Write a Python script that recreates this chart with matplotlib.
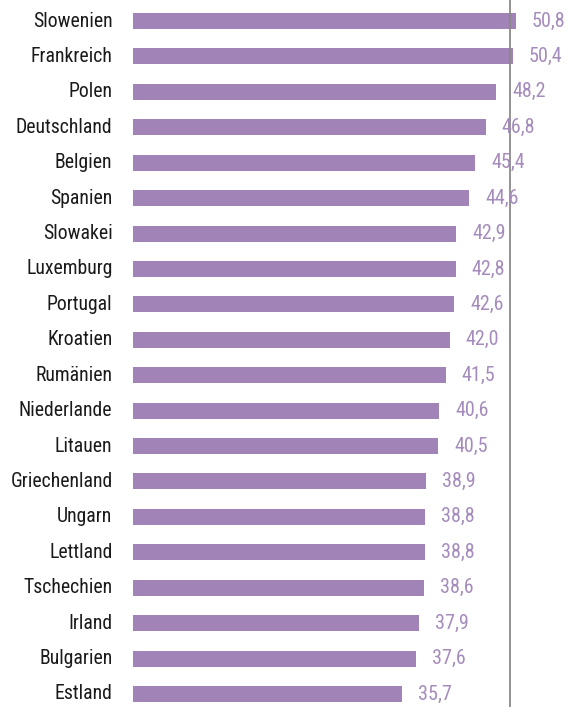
import matplotlib

matplotlib.use("Agg")

import matplotlib.pyplot as plt

countries = [
    "Slowenien", "Frankreich", "Polen", "Deutschland", "Belgien", "Spanien",
    "Slowakei", "Luxemburg", "Portugal", "Kroatien", "Rumänien", "Niederlande",
    "Litauen", "Griechenland", "Ungarn", "Lettland", "Tschechien", "Irland",
    "Bulgarien", "Estland",
]
values = [
    50.8, 50.4, 48.2, 46.8, 45.4, 44.6, 42.9, 42.8, 42.6, 42.0, 41.5, 40.6,
    40.5, 38.9, 38.8, 38.8, 38.6, 37.9, 37.6, 35.7,
]
reference = 50

BAR = "#a283b8"
VALUE_TEXT = "#a58cbc"
plt.rcParams["font.family"] = ["Roboto Condensed", "DejaVu Sans"]

W, H = 579, 707
fig = plt.figure(figsize=(W / 100, H / 100), dpi=100)
ax = fig.add_axes([132.5 / W, 0, (W - 132.5) / W, 1])

px_per_unit = 7.55
row = 35.42
ypos = list(range(len(countries)))
ax.barh(ypos, values, height=16 / row, color=BAR, zorder=2)
ax.axvline(reference, color="#8a8a8a", lw=1.3, zorder=3)

for y, v, name in zip(ypos, values, countries):
    ax.text(v + 16 / px_per_unit, y, f"{v:.1f}".replace(".", ","), color=VALUE_TEXT,
            fontsize=14.5, va="center", ha="left")
    ax.text(-20 / px_per_unit, y, name, color="#1a1a1a", fontsize=14.2,
            va="center", ha="right", clip_on=False)

ax.set_xlim(0, (W - 132.5) / px_per_unit)
ax.set_ylim(len(countries) - 1 + 13 / row, -21 / row)
ax.axis("off")

fig.savefig("out.png", dpi=100)
